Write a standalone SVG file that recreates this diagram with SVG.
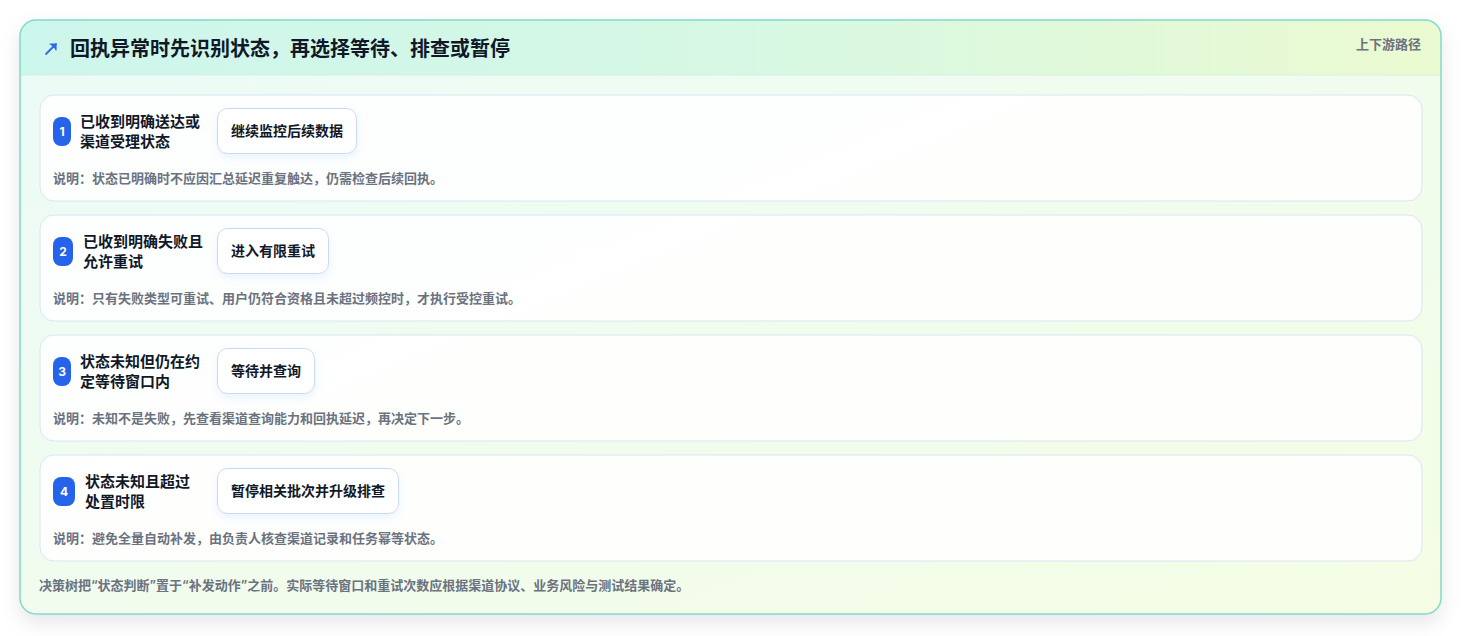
<svg xmlns="http://www.w3.org/2000/svg" width="1462" height="636" viewBox="0 0 1462 636">
  <defs>
    <linearGradient id="bodyGrad" x1="0" y1="0" x2="1" y2="1">
      <stop offset="0" stop-color="#ecfbf8"/>
      <stop offset="1" stop-color="#f5fde4"/>
    </linearGradient>
    <linearGradient id="headGrad" x1="0" y1="0" x2="1" y2="0">
      <stop offset="0" stop-color="#cdf6ec"/>
      <stop offset="0.5" stop-color="#d6f8e4"/>
      <stop offset="1" stop-color="#ebfad0"/>
    </linearGradient>
    <clipPath id="cardClip">
      <rect x="20" y="20" width="1421" height="594" rx="16"/>
    </clipPath>
    <filter id="cardShadow" x="-5%" y="-5%" width="110%" height="115%">
      <feDropShadow dx="0" dy="8" stdDeviation="10" flood-color="#0f172a" flood-opacity="0.10"/>
    </filter>
    <filter id="boxShadow" x="-20%" y="-30%" width="140%" height="170%">
      <feDropShadow dx="0" dy="4" stdDeviation="4" flood-color="#2563eb" flood-opacity="0.08"/>
    </filter>
  </defs>
  <style>
    text { font-family: "Inter", "Noto Sans CJK SC", "Noto Sans", sans-serif; }
    .title { font-size: 20px; font-weight: 700; fill: #111827; }
    .tag { font-size: 13px; font-weight: 600; fill: #6b7280; }
    .row { fill: #ffffff; fill-opacity: 0.88; stroke: #d7e6f3; stroke-width: 1; }
    .badge { fill: #2563eb; }
    .num { font-size: 12px; font-weight: 700; fill: #ffffff; text-anchor: middle; }
    .label { font-size: 15px; font-weight: 700; fill: #111827; }
    .act { fill: #ffffff; stroke: #c9d9f4; stroke-width: 1; }
    .acttext { font-size: 14px; font-weight: 700; fill: #111827; text-anchor: middle; }
    .note { font-size: 13px; font-weight: 600; fill: #6b7280; }
    .foot { font-size: 13px; font-weight: 600; fill: #6b7280; }
  </style>

  <g id="card">
    <rect x="20" y="20" width="1421" height="594" rx="16" fill="url(#bodyGrad)" filter="url(#cardShadow)"/>
    <g clip-path="url(#cardClip)">
      <rect x="20" y="20" width="1421" height="55" fill="url(#headGrad)"/>
      <line x1="20" y1="75" x2="1441" y2="75" stroke="#d3efe6" stroke-width="1"/>
    </g>
    <rect x="20" y="20" width="1421" height="594" rx="16" fill="none" stroke="#7fdcc9" stroke-width="1.5"/>
  </g>

  <g id="header">
    <g id="icon" stroke="#2f6ae6" stroke-width="1.8" fill="none" stroke-linecap="round" stroke-linejoin="round">
      <line x1="46" y1="54" x2="56" y2="44"/>
      <path d="M50 44 L56 44 L56 50" fill="#2f6ae6" stroke-width="1.2"/>
    </g>
    <text class="title" x="70" y="56">回执异常时先识别状态，再选择等待、排查或暂停</text>
    <text class="tag" x="1421" y="49" text-anchor="end">上下游路径</text>
  </g>

  <g id="connectors"></g>

  <g id="row1">
    <rect class="row" x="40" y="95" width="1382" height="106" rx="14"/>
    <rect class="badge" x="53" y="117" width="18" height="29" rx="8"/>
    <text class="num" x="62" y="136">1</text>
    <text class="label" x="80" y="127">已收到明确送达或</text>
    <text class="label" x="80" y="147">渠道受理状态</text>
    <rect class="act" x="217.5" y="108.5" width="139" height="45" rx="10" filter="url(#boxShadow)"/>
    <text class="acttext" x="287" y="136">继续监控后续数据</text>
    <text class="note" x="53" y="183">说明：状态已明确时不应因汇总延迟重复触达，仍需检查后续回执。</text>
  </g>

  <g id="row2">
    <rect class="row" x="40" y="215" width="1382" height="106" rx="14"/>
    <rect class="badge" x="53" y="237" width="20" height="29" rx="8"/>
    <text class="num" x="63" y="256">2</text>
    <text class="label" x="83" y="247">已收到明确失败且</text>
    <text class="label" x="83" y="267">允许重试</text>
    <rect class="act" x="217.5" y="228.5" width="111" height="45" rx="10" filter="url(#boxShadow)"/>
    <text class="acttext" x="273" y="256">进入有限重试</text>
    <text class="note" x="53" y="303">说明：只有失败类型可重试、用户仍符合资格且未超过频控时，才执行受控重试。</text>
  </g>

  <g id="row3">
    <rect class="row" x="40" y="335" width="1382" height="106" rx="14"/>
    <rect class="badge" x="53" y="357" width="18" height="29" rx="8"/>
    <text class="num" x="62" y="376">3</text>
    <text class="label" x="80" y="367">状态未知但仍在约</text>
    <text class="label" x="80" y="387">定等待窗口内</text>
    <rect class="act" x="217.5" y="348.5" width="97" height="45" rx="10" filter="url(#boxShadow)"/>
    <text class="acttext" x="266" y="376">等待并查询</text>
    <text class="note" x="53" y="423">说明：未知不是失败，先查看渠道查询能力和回执延迟，再决定下一步。</text>
  </g>

  <g id="row4">
    <rect class="row" x="40" y="455" width="1382" height="106" rx="14"/>
    <rect class="badge" x="53" y="477" width="22" height="29" rx="8"/>
    <text class="num" x="64" y="496">4</text>
    <text class="label" x="85" y="487">状态未知且超过</text>
    <text class="label" x="85" y="507">处置时限</text>
    <rect class="act" x="217.5" y="468.5" width="181" height="45" rx="10" filter="url(#boxShadow)"/>
    <text class="acttext" x="308" y="496">暂停相关批次并升级排查</text>
    <text class="note" x="53" y="543">说明：避免全量自动补发，由负责人核查渠道记录和任务幂等状态。</text>
  </g>

  <g id="footer">
    <text class="foot" x="39" y="590">决策树把“状态判断”置于“补发动作”之前。实际等待窗口和重试次数应根据渠道协议、业务风险与测试结果确定。</text>
  </g>
</svg>
